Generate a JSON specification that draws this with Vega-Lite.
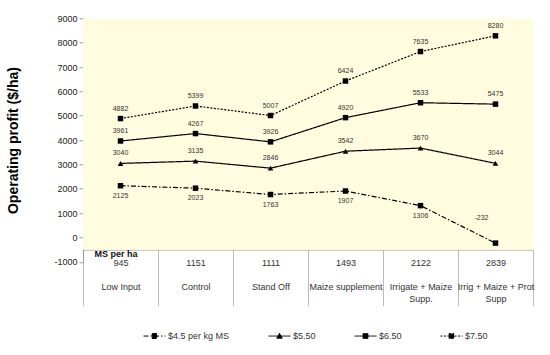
{
  "$schema": "https://vega.github.io/schema/vega-lite/v6.json",
  "width": 450,
  "height": 243.5,
  "autosize": "none",
  "padding": {"left": 83, "top": 18.3, "right": 17, "bottom": 93.2},
  "background": "white",
  "config": {"view": {"stroke": null}, "font": "Liberation Sans"},
  "data": {
    "values": [
      {"column": "945|\u200b|Low Input", "series": "$4.5 per kg MS", "profit": 2125},
      {"column": "945|\u200b|Low Input", "series": "$5.50", "profit": 3040},
      {"column": "945|\u200b|Low Input", "series": "$6.50", "profit": 3961},
      {"column": "945|\u200b|Low Input", "series": "$7.50", "profit": 4882},
      {"column": "1151|\u200b|Control", "series": "$4.5 per kg MS", "profit": 2023},
      {"column": "1151|\u200b|Control", "series": "$5.50", "profit": 3135},
      {"column": "1151|\u200b|Control", "series": "$6.50", "profit": 4267},
      {"column": "1151|\u200b|Control", "series": "$7.50", "profit": 5399},
      {"column": "1111|\u200b|Stand Off", "series": "$4.5 per kg MS", "profit": 1763},
      {"column": "1111|\u200b|Stand Off", "series": "$5.50", "profit": 2846},
      {"column": "1111|\u200b|Stand Off", "series": "$6.50", "profit": 3926},
      {"column": "1111|\u200b|Stand Off", "series": "$7.50", "profit": 5007},
      {"column": "1493|\u200b|Maize supplement", "series": "$4.5 per kg MS", "profit": 1907},
      {"column": "1493|\u200b|Maize supplement", "series": "$5.50", "profit": 3542},
      {"column": "1493|\u200b|Maize supplement", "series": "$6.50", "profit": 4920},
      {"column": "1493|\u200b|Maize supplement", "series": "$7.50", "profit": 6424},
      {"column": "2122|\u200b|Irrigate + Maize|Supp.", "series": "$4.5 per kg MS", "profit": 1306},
      {"column": "2122|\u200b|Irrigate + Maize|Supp.", "series": "$5.50", "profit": 3670},
      {"column": "2122|\u200b|Irrigate + Maize|Supp.", "series": "$6.50", "profit": 5533},
      {"column": "2122|\u200b|Irrigate + Maize|Supp.", "series": "$7.50", "profit": 7635},
      {"column": "2839|\u200b|Irrig + Maize + Prot|Supp", "series": "$4.5 per kg MS", "profit": -232},
      {"column": "2839|\u200b|Irrig + Maize + Prot|Supp", "series": "$5.50", "profit": 3044},
      {"column": "2839|\u200b|Irrig + Maize + Prot|Supp", "series": "$6.50", "profit": 5475},
      {"column": "2839|\u200b|Irrig + Maize + Prot|Supp", "series": "$7.50", "profit": 8280}
    ]
  },
  "layer": [
    {
      "data": {"values": [{}]},
      "mark": {"type": "rect", "color": "#FFFCDF"},
      "encoding": {
        "x": {"value": 0},
        "x2": {"value": "width"},
        "y": {
          "datum": 9000,
          "type": "quantitative",
          "scale": {"domain": [-1000, 9000], "nice": false, "zero": false},
          "axis": {
            "values": [-1000, 0, 1000, 2000, 3000, 4000, 5000, 6000, 7000, 8000, 9000],
            "tickCount": 11,
            "grid": false,
            "domainColor": "#999999",
            "tickColor": "#999999",
            "tickSize": 4,
            "labelPadding": 2,
            "labelFontSize": 9,
            "labelColor": "#222222",
            "labelOverlap": false,
            "labelExpr": "'' + datum.value",
            "title": "Operating profit ($/ha)",
            "titleFontSize": 14,
            "titleFontWeight": "bold",
            "titleColor": "black",
            "titlePadding": 33
          }
        },
        "y2": {"datum": -500}
      }
    },
    {
      "mark": {"type": "line", "color": "black", "strokeWidth": 1.2},
      "encoding": {
        "x": {
          "field": "column",
          "type": "nominal",
          "sort": null,
          "scale": {"type": "band", "paddingInner": 0, "paddingOuter": 0},
          "axis": {
            "orient": "bottom",
            "offset": -12.2,
            "domainColor": "#aaaaaa",
            "tickColor": "#bbbbbb",
            "tickSize": 56,
            "tickBand": "extent",
            "labelPadding": -47,
            "labelBaseline": "top",
            "labelLineHeight": 12,
            "labelFontSize": 9,
            "labelColor": "#333333",
            "labelAngle": 0,
            "labelOverlap": false,
            "labelExpr": "split(datum.label, '|')",
            "title": "MS per ha",
            "titleFontSize": 9,
            "titleFontWeight": "bold",
            "titleColor": "#111111",
            "titleX": 11,
            "titleY": 3.5,
            "titleAlign": "left",
            "titleBaseline": "middle",
            "titleAngle": 0
          }
        },
        "y": {"field": "profit", "type": "quantitative"},
        "strokeDash": {
          "field": "series",
          "type": "nominal",
          "scale": {
            "domain": ["$4.5 per kg MS", "$5.50", "$6.50", "$7.50"],
            "range": [[5, 2, 1.5, 2], [1, 0], [1, 0], [2, 1.5]]
          },
          "legend": {
            "orient": "none",
            "legendX": 60,
            "legendY": 306,
            "direction": "horizontal",
            "title": null,
            "labelFontSize": 9,
            "labelColor": "#333333",
            "symbolSize": 484,
            "symbolStrokeWidth": 1,
            "symbolStrokeColor": "black",
            "symbolFillColor": "black",
            "columnPadding": 36,
            "labelOffset": 2,
            "encode": {
              "symbols": {
                "update": {
                  "shape": {"signal": "datum.value === '$5.50' ? 'M-1,0H1M-0.25,0.2L0,-0.25L0.25,0.2Z' : 'M-1,0H1M-0.22,-0.22H0.22V0.22H-0.22Z'"},
                  "fill": {"value": "black"},
                  "stroke": {"value": "black"}
                }
              }
            }
          }
        }
      }
    },
    {
      "transform": [{"filter": "datum.series !== '$5.50'"}],
      "mark": {"type": "point", "shape": "square", "filled": true, "color": "black", "opacity": 1, "size": 30},
      "encoding": {
        "x": {"field": "column", "type": "nominal", "sort": null},
        "y": {"field": "profit", "type": "quantitative"}
      }
    },
    {
      "transform": [{"filter": "datum.series === '$5.50'"}],
      "mark": {"type": "point", "shape": "triangle-up", "filled": true, "color": "black", "opacity": 1, "size": 32},
      "encoding": {
        "x": {"field": "column", "type": "nominal", "sort": null},
        "y": {"field": "profit", "type": "quantitative"}
      }
    },
    {
      "transform": [{"filter": "datum.series === '$4.5 per kg MS' && datum.profit >= 0"}],
      "mark": {"type": "text", "fontSize": 7, "color": "#333333", "dy": 10},
      "encoding": {
        "x": {"field": "column", "type": "nominal", "sort": null},
        "y": {"field": "profit", "type": "quantitative"},
        "text": {"field": "profit", "type": "nominal"}
      }
    },
    {
      "transform": [{"filter": "datum.series === '$4.5 per kg MS' && datum.profit < 0"}],
      "mark": {"type": "text", "fontSize": 7, "color": "#333333", "dy": -25, "dx": -14},
      "encoding": {
        "x": {"field": "column", "type": "nominal", "sort": null},
        "y": {"field": "profit", "type": "quantitative"},
        "text": {"field": "profit", "type": "nominal"}
      }
    },
    {
      "transform": [{"filter": "datum.series !== '$4.5 per kg MS'"}],
      "mark": {"type": "text", "fontSize": 7, "color": "#333333", "dy": -10},
      "encoding": {
        "x": {"field": "column", "type": "nominal", "sort": null},
        "y": {"field": "profit", "type": "quantitative"},
        "text": {"field": "profit", "type": "nominal"}
      }
    }
  ]
}
